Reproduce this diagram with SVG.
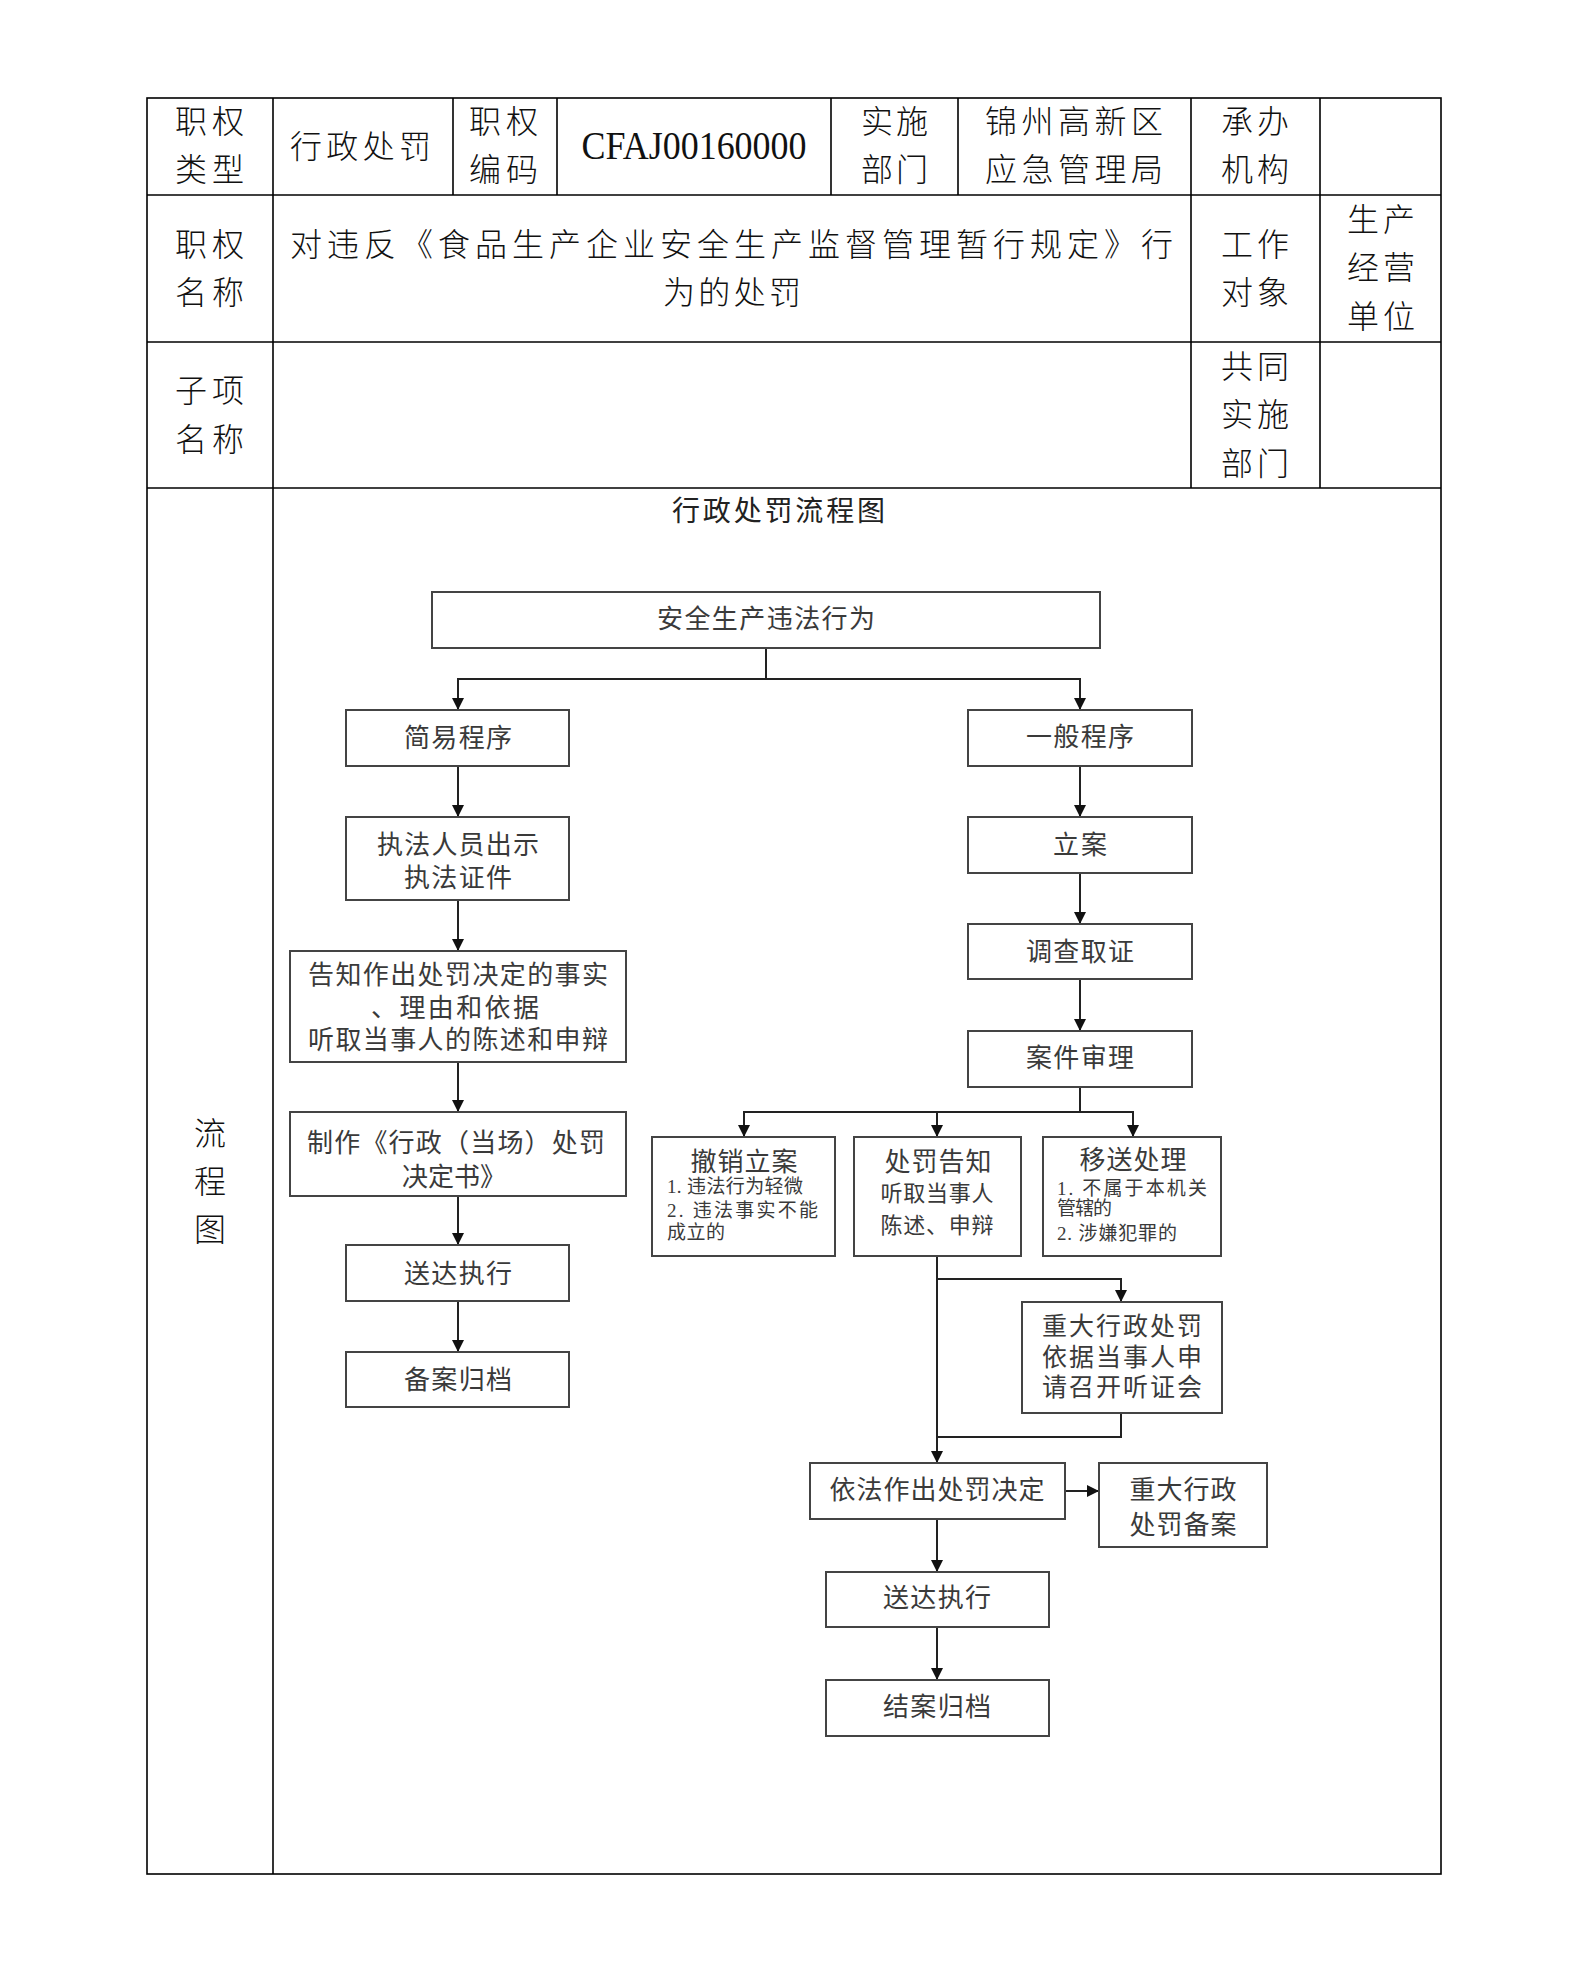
<svg xmlns="http://www.w3.org/2000/svg" width="1587" height="1972" viewBox="0 0 1587 1972">
<style>
.tl{stroke:#000;stroke-width:1.6;fill:none}
.t{font-family:"Noto Sans CJK SC","Noto Sans CJK JP",sans-serif;font-size:32px;font-weight:300;fill:#111;dominant-baseline:central}
.f{font-family:"Noto Sans CJK SC","Noto Sans CJK JP",sans-serif;font-size:26px;fill:#3a3a3a;dominant-baseline:central;text-anchor:middle}
.f22{font-size:22px}
.f25{font-size:25px}
.s{font-family:"Liberation Serif","Noto Sans CJK SC",sans-serif;font-size:19px;fill:#3a3a3a;dominant-baseline:central}
.box{fill:#fff;stroke:#444;stroke-width:2}
.c{stroke:#222;stroke-width:2;fill:none}
.ca{stroke:#222;stroke-width:2;fill:none;marker-end:url(#ah)}
</style>
<defs>
<marker id="ah" markerUnits="userSpaceOnUse" markerWidth="12" markerHeight="12" refX="12" refY="6" orient="auto">
<path d="M0,0 L12,6 L0,12 z" fill="#111"/>
</marker>
</defs>
<rect width="1587" height="1972" fill="#fff"/>

<g id="table">
<rect class="tl" x="147" y="98" width="1294" height="1776"/>
<line class="tl" x1="147" y1="195" x2="1441" y2="195"/>
<line class="tl" x1="147" y1="342" x2="1441" y2="342"/>
<line class="tl" x1="147" y1="488" x2="1441" y2="488"/>
<line class="tl" x1="273" y1="98" x2="273" y2="1874"/>
<line class="tl" x1="453" y1="98" x2="453" y2="195"/>
<line class="tl" x1="557" y1="98" x2="557" y2="195"/>
<line class="tl" x1="831" y1="98" x2="831" y2="195"/>
<line class="tl" x1="958" y1="98" x2="958" y2="195"/>
<line class="tl" x1="1191" y1="98" x2="1191" y2="488"/>
<line class="tl" x1="1320" y1="98" x2="1320" y2="488"/>

<text class="t" x="175" y="119" textLength="69" lengthAdjust="spacing">职权</text>
<text class="t" x="175" y="167" textLength="69" lengthAdjust="spacing">类型</text>
<text class="t" x="290" y="144" textLength="141" lengthAdjust="spacing">行政处罚</text>
<text class="t" x="469" y="119" textLength="69" lengthAdjust="spacing">职权</text>
<text class="t" x="469" y="167" textLength="69" lengthAdjust="spacing">编码</text>
<text x="694" y="145" font-family="'Liberation Serif',serif" font-size="40" fill="#111" text-anchor="middle" dominant-baseline="central" textLength="225" lengthAdjust="spacingAndGlyphs">CFAJ00160000</text>
<text class="t" x="861" y="119" textLength="67" lengthAdjust="spacing">实施</text>
<text class="t" x="861" y="167" textLength="67" lengthAdjust="spacing">部门</text>
<text class="t" x="985" y="119" textLength="178" lengthAdjust="spacing">锦州高新区</text>
<text class="t" x="985" y="167" textLength="178" lengthAdjust="spacing">应急管理局</text>
<text class="t" x="1221" y="119" textLength="68" lengthAdjust="spacing">承办</text>
<text class="t" x="1221" y="167" textLength="68" lengthAdjust="spacing">机构</text>

<text class="t" x="175" y="242" textLength="69" lengthAdjust="spacing">职权</text>
<text class="t" x="175" y="290" textLength="69" lengthAdjust="spacing">名称</text>
<text class="t" x="290" y="242" textLength="883" lengthAdjust="spacing">对违反《食品生产企业安全生产监督管理暂行规定》行</text>
<text class="t" x="732" y="290" text-anchor="middle" textLength="138" lengthAdjust="spacing">为的处罚</text>
<text class="t" x="1221" y="242" textLength="68" lengthAdjust="spacing">工作</text>
<text class="t" x="1221" y="290" textLength="68" lengthAdjust="spacing">对象</text>
<text class="t" x="1347" y="217" textLength="68" lengthAdjust="spacing">生产</text>
<text class="t" x="1347" y="265" textLength="68" lengthAdjust="spacing">经营</text>
<text class="t" x="1347" y="314" textLength="68" lengthAdjust="spacing">单位</text>

<text class="t" x="175" y="388" textLength="69" lengthAdjust="spacing">子项</text>
<text class="t" x="175" y="437" textLength="69" lengthAdjust="spacing">名称</text>
<text class="t" x="1221" y="364" textLength="68" lengthAdjust="spacing">共同</text>
<text class="t" x="1221" y="412" textLength="68" lengthAdjust="spacing">实施</text>
<text class="t" x="1221" y="461" textLength="68" lengthAdjust="spacing">部门</text>

<text class="t" x="210" y="1131" text-anchor="middle">流</text>
<text class="t" x="210" y="1179" text-anchor="middle">程</text>
<text class="t" x="210" y="1227" text-anchor="middle">图</text>

<text x="672" y="509" font-family="'Noto Sans CJK SC',sans-serif" font-size="28" fill="#222" dominant-baseline="central" textLength="213" lengthAdjust="spacing">行政处罚流程图</text>
</g>

<g id="connectors">
<polyline class="c" points="766,648 766,679"/>
<polyline class="ca" points="766,679 458,679 458,710"/>
<polyline class="ca" points="766,679 1080,679 1080,710"/>
<line class="ca" x1="458" y1="766" x2="458" y2="817"/>
<line class="ca" x1="458" y1="900" x2="458" y2="951"/>
<line class="ca" x1="458" y1="1062" x2="458" y2="1112"/>
<line class="ca" x1="458" y1="1196" x2="458" y2="1245"/>
<line class="ca" x1="458" y1="1301" x2="458" y2="1352"/>
<line class="ca" x1="1080" y1="766" x2="1080" y2="817"/>
<line class="ca" x1="1080" y1="873" x2="1080" y2="924"/>
<line class="ca" x1="1080" y1="979" x2="1080" y2="1031"/>
<polyline class="c" points="1080,1087 1080,1112"/>
<polyline class="ca" points="1080,1112 744,1112 744,1137"/>
<polyline class="ca" points="1080,1112 937,1112 937,1137"/>
<polyline class="ca" points="1080,1112 1133,1112 1133,1137"/>
<line class="ca" x1="937" y1="1256" x2="937" y2="1463"/>
<polyline class="ca" points="937,1279 1121,1279 1121,1302"/>
<polyline class="c" points="1121,1413 1121,1437 937,1437"/>
<line class="ca" x1="1065" y1="1491" x2="1099" y2="1491"/>
<line class="ca" x1="937" y1="1519" x2="937" y2="1572"/>
<line class="ca" x1="937" y1="1627" x2="937" y2="1680"/>
</g>

<g id="n_top"><rect class="box" x="432" y="592" width="668" height="56"/><text class="f" x="766" y="616" textLength="218" lengthAdjust="spacing">安全生产违法行为</text></g>
<g id="n_simple"><rect class="box" x="346" y="710" width="223" height="56"/><text class="f" x="458" y="735" textLength="108" lengthAdjust="spacing">简易程序</text></g>
<g id="n_show"><rect class="box" x="346" y="817" width="223" height="83"/><text class="f" x="458" y="842" textLength="162" lengthAdjust="spacing">执法人员出示</text><text class="f" x="458" y="875" textLength="108" lengthAdjust="spacing">执法证件</text></g>
<g id="n_inform"><rect class="box" x="290" y="951" width="336" height="111"/><text class="f" x="458" y="972" textLength="300" lengthAdjust="spacing">告知作出处罚决定的事实</text><text class="f" x="455" y="1005" textLength="168" lengthAdjust="spacing">、理由和依据</text><text class="f" x="458" y="1037" textLength="300" lengthAdjust="spacing">听取当事人的陈述和申辩</text></g>
<g id="n_make"><rect class="box" x="290" y="1112" width="336" height="84"/><text class="f" x="456" y="1140" textLength="298" lengthAdjust="spacing">制作《行政（当场）处罚</text><text class="f" x="454" y="1174">决定书》</text></g>
<g id="n_deliver_l"><rect class="box" x="346" y="1245" width="223" height="56"/><text class="f" x="458" y="1271" textLength="108" lengthAdjust="spacing">送达执行</text></g>
<g id="n_archive_l"><rect class="box" x="346" y="1352" width="223" height="55"/><text class="f" x="458" y="1377" textLength="108" lengthAdjust="spacing">备案归档</text></g>

<g id="n_general"><rect class="box" x="968" y="710" width="224" height="56"/><text class="f" x="1080" y="734" textLength="108" lengthAdjust="spacing">一般程序</text></g>
<g id="n_file"><rect class="box" x="968" y="817" width="224" height="56"/><text class="f" x="1080" y="842" textLength="54" lengthAdjust="spacing">立案</text></g>
<g id="n_investigate"><rect class="box" x="968" y="924" width="224" height="55"/><text class="f" x="1080" y="949" textLength="108" lengthAdjust="spacing">调查取证</text></g>
<g id="n_review"><rect class="box" x="968" y="1031" width="224" height="56"/><text class="f" x="1080" y="1055" textLength="108" lengthAdjust="spacing">案件审理</text></g>

<g id="n_revoke"><rect class="box" x="652" y="1137" width="183" height="119"/><text class="f" x="744" y="1159" textLength="107" lengthAdjust="spacing">撤销立案</text><text class="s" x="667" y="1186" textLength="136" lengthAdjust="spacing">1. 违法行为轻微</text><text class="s" x="667" y="1210" textLength="151" lengthAdjust="spacing">2. 违法事实不能</text><text class="s" x="667" y="1232" textLength="58" lengthAdjust="spacing">成立的</text></g>
<g id="n_notify"><rect class="box" x="854" y="1137" width="167" height="119"/><text class="f" x="938" y="1159" textLength="107" lengthAdjust="spacing">处罚告知</text><text class="f f22" x="937" y="1191" textLength="113" lengthAdjust="spacing">听取当事人</text><text class="f f22" x="937" y="1223" textLength="113" lengthAdjust="spacing">陈述、申辩</text></g>
<g id="n_transfer"><rect class="box" x="1043" y="1137" width="178" height="119"/><text class="f" x="1133" y="1157" textLength="107" lengthAdjust="spacing">移送处理</text><text class="s" x="1057" y="1188" textLength="150" lengthAdjust="spacing">1. 不属于本机关</text><text class="s" x="1057" y="1208" textLength="55" lengthAdjust="spacing">管辖的</text><text class="s" x="1057" y="1233" textLength="120" lengthAdjust="spacing">2. 涉嫌犯罪的</text></g>
<g id="n_hearing"><rect class="box" x="1022" y="1302" width="200" height="111"/><text class="f f25" x="1122" y="1324" textLength="160" lengthAdjust="spacing">重大行政处罚</text><text class="f f25" x="1122" y="1355" textLength="160" lengthAdjust="spacing">依据当事人申</text><text class="f f25" x="1122" y="1385" textLength="160" lengthAdjust="spacing">请召开听证会</text></g>
<g id="n_decide"><rect class="box" x="810" y="1463" width="255" height="56"/><text class="f" x="937" y="1487" textLength="215" lengthAdjust="spacing">依法作出处罚决定</text></g>
<g id="n_record"><rect class="box" x="1099" y="1463" width="168" height="84"/><text class="f" x="1183" y="1487" textLength="107" lengthAdjust="spacing">重大行政</text><text class="f" x="1183" y="1522" textLength="107" lengthAdjust="spacing">处罚备案</text></g>
<g id="n_deliver_r"><rect class="box" x="826" y="1572" width="223" height="55"/><text class="f" x="937" y="1595" textLength="108" lengthAdjust="spacing">送达执行</text></g>
<g id="n_close"><rect class="box" x="826" y="1680" width="223" height="56"/><text class="f" x="937" y="1704" textLength="108" lengthAdjust="spacing">结案归档</text></g>
</svg>
